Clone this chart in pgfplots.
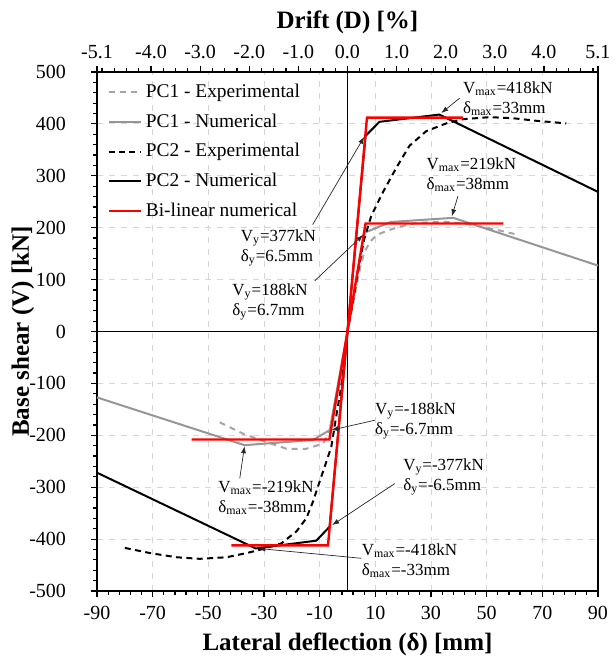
\documentclass[border=0pt]{standalone}
\usepackage{fontspec}
\setmainfont{Liberation Serif}
\usepackage{pgfplots}
\pgfplotsset{compat=1.18}
\usetikzlibrary{arrows.meta}
\definecolor{gexp}{RGB}{165,165,165}
\definecolor{gnum}{RGB}{150,150,150}

\pgfplotstableread{
x y
-45.9 -175
-37.5 -197
-29.1 -213
-21.9 -226
-14.8 -226
-8.8 -216
-6.4 -193
-4.5 -150
-3 -105
-1.5 -55
0 0
1.5 40
3 82
4.5 122
6 152
8 172
10.5 186
13.7 193
18 201
23.7 208
30 211
36.3 211
43 207
50 200
56 193
61.5 186
}\pcaexp

\pgfplotstableread{
x y
-90 -127
-37 -219
-12.4 -209
-6.4 -190
0 0
6.0 190
15.5 211
38 219
90 127
}\pcanum

\pgfplotstableread{
x y
-80 -417
-70.9 -427
-61.4 -435
-53.1 -438
-43.5 -435
-36.3 -427
-30.3 -419
-23.7 -408
-18.3 -385
-14.8 -360
-12.4 -328
-10 -289
-7.6 -251
-5.8 -222
-4 -162
-2.2 -104
-1 -53
0 0
2 60
4 122
6 178
8.5 222
12.7 268
17.6 316
22.3 358
28.3 386
35.5 401
41.5 409
51 413
59.4 411
67.8 406
78.6 401
}\pcbexp

\pgfplotstableread{
x y
-90 -272
-33 -418
-11.2 -403
-6.4 -376
0 0
6.5 377
11.5 404
33 418
90 269
}\pcbnum

\pgfplotstableread{
x y
-41.7 -412
-7.0 -412
0 0
7.0 412
41.5 412
}\bilb

\pgfplotstableread{
x y
-56 -208
-6.5 -208
0 0
6.5 208
56 208
}\bila

\begin{document}
\begin{tikzpicture}
\begin{axis}[
  name=main,
  width=250.5pt, height=259.5pt, scale only axis,
  xmin=-90, xmax=90, ymin=-500, ymax=500,
  xtick={-90,-70,...,90}, ytick={-500,-400,...,500},
  minor x tick num=4, minor y tick num=4,
  tick pos=left, tick align=outside,
  major tick length=3pt, minor tick length=2pt,
  every tick/.style={black, line width=0.6pt},
  grid=major, major grid style={dashed, black!16, line width=0.4pt},
  axis line style={line width=0.8pt},
  /pgf/number format/assume math mode=true,
  tick label style={font=\fontsize{10}{12}\selectfont},
  yticklabel style={xshift=-9pt},
  xticklabel style={yshift=-1pt},
  xlabel={Lateral deflection (δ) [mm]},
  ylabel={Base shear (V) [kN]},
  label style={font=\fontsize{12.5}{14}\selectfont\bfseries},
  xlabel style={yshift=0pt},
  ylabel style={at={(axis description cs:-0.148,0.5)}, anchor=center},
  clip=false,
  legend style={at={(0.02,0.985)}, anchor=north west, draw=none, fill=none,
    font=\fontsize{9.7}{11}\selectfont, row sep=2.6pt, inner sep=0pt,
    legend cell align=left},
  legend image code/.code={\draw[#1] (0pt,0pt) -- (16pt,0pt);},
]
\draw[black, line width=0.75pt] (axis cs:0,-500) -- (axis cs:0,500);
\draw[black, line width=0.75pt] (axis cs:-90,0) -- (axis cs:90,0);

\addplot[gexp, line width=1pt, dash pattern=on 3pt off 2.5pt] table {\pcaexp};
\addlegendentry{PC1 - Experimental}
\addplot[gnum, line width=1pt] table {\pcanum};
\addlegendentry{PC1 - Numerical}
\addplot[black, line width=1pt, dash pattern=on 3pt off 2.2pt] table {\pcbexp};
\addlegendentry{PC2 - Experimental}
\addplot[black, line width=1pt] table {\pcbnum};
\addlegendentry{PC2 - Numerical}
\addplot[red, line width=1.2pt] table {\bilb};
\addlegendentry{Bi-linear numerical}
\addplot[red, line width=1.2pt, forget plot] table {\bila};

\tikzset{ann/.style={font=\fontsize{8.5}{10}\selectfont, inner sep=0pt, align=left},
         arr/.style={line width=0.35pt, black!85, -{Latex[length=3.5pt,width=2.5pt]}}}
\draw[arr] (axis cs:40.3,449.5) -- (axis cs:33.7,421);
\node[ann, anchor=west] at (axis cs:41.4,448) {V\textsubscript{max}=418kN\\δ\textsubscript{max}=33mm};
\draw[arr] (axis cs:39.7,261) -- (axis cs:37.5,222);
\node[ann, anchor=west] at (axis cs:28.3,302) {V\textsubscript{max}=219kN\\δ\textsubscript{max}=38mm};
\draw[arr] (axis cs:-12.5,206) -- (axis cs:6.0,375);
\node[ann, anchor=east] at (axis cs:-11.2,162) {V\textsubscript{y}=377kN\\δ\textsubscript{y}=6.5mm};
\draw[arr] (axis cs:-11.8,97.5) -- (axis cs:5.6,186);
\node[ann, anchor=east] at (axis cs:-14.2,56.7) {V\textsubscript{y}=188kN\\δ\textsubscript{y}=6.7mm};
\draw[arr] (axis cs:9.8,-171) -- (axis cs:-5.8,-190);
\node[ann, anchor=west] at (axis cs:9.8,-172) {V\textsubscript{y}=-188kN\\δ\textsubscript{y}=-6.7mm};
\draw[arr] (axis cs:17,-293) -- (axis cs:-5.5,-373);
\node[ann, anchor=west] at (axis cs:19.9,-280) {V\textsubscript{y}=-377kN\\δ\textsubscript{y}=-6.5mm};
\draw[arr] (axis cs:5,-437) -- (axis cs:-32,-418);
\node[ann, anchor=west] at (axis cs:5,-441) {V\textsubscript{max}=-418kN\\δ\textsubscript{max}=-33mm};
\draw[arr] (axis cs:-38.7,-283) -- (axis cs:-37,-221);
\node[ann, anchor=west] at (axis cs:-46.5,-321) {V\textsubscript{max}=-219kN\\δ\textsubscript{max}=-38mm};
\end{axis}
\begin{axis}[
  width=250.5pt, height=259.5pt, scale only axis,
  xmin=-5.1, xmax=5.1, ymin=0, ymax=1,
  axis x line*=top, axis y line=none,
  xtick={-5.1,-4,-3,-2,-1,0,1,2,3,4,5.1},
  minor xtick={-5,-4.75,...,5},
  tick align=outside,
  major tick length=3pt, minor tick length=2pt,
  every tick/.style={black, line width=0.6pt},
  axis line style={line width=0.8pt},
  /pgf/number format/assume math mode=true,
  xticklabel style={font=\fontsize{10}{12}\selectfont, /pgf/number format/.cd, fixed, fixed zerofill, precision=1},
  xlabel={Drift (D) [\%]},
  xlabel style={font=\fontsize{12.5}{14}\selectfont\bfseries, yshift=-1pt},
]
\end{axis}
\pgfresetboundingbox
\path[use as bounding box] ([xshift=-48.5pt,yshift=-36pt]main.south west) rectangle ([xshift=9pt,yshift=36pt]main.north east);
\end{tikzpicture}
\end{document}
